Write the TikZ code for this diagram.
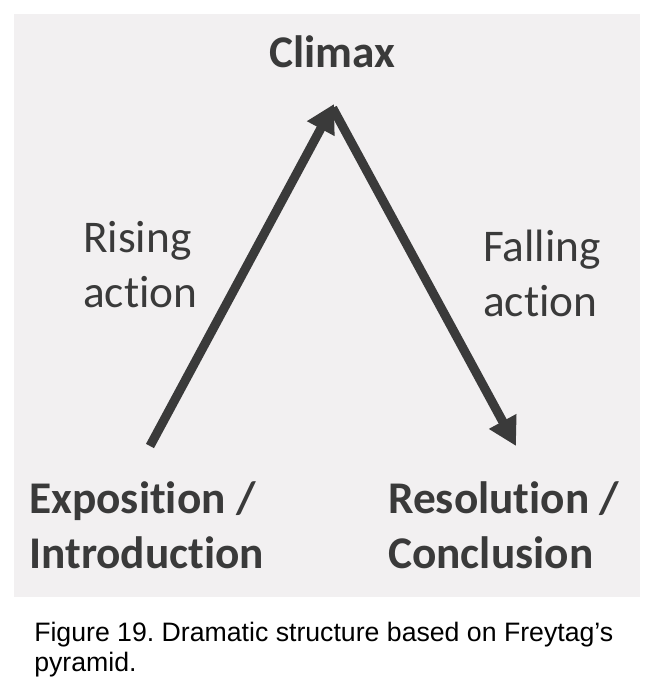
\documentclass[tikz,border=0pt]{standalone}
\usepackage{fontspec}
\newfontfamily\labelfont[Ligatures=NoCommon]{Carlito}
\newfontfamily\captionfont{Liberation Sans}
\usetikzlibrary{arrows.meta}

\definecolor{panelgray}{HTML}{F2F0F1}
\definecolor{inkgray}{HTML}{3A3A3A}

\begin{document}
\frenchspacing
\begin{tikzpicture}[
  x=0.75pt, y=-0.75pt,
  stage/.style={font=\labelfont\bfseries\fontsize{34}{41}\selectfont, text=inkgray, align=left, inner sep=0pt, anchor=base west},
  phase/.style={font=\labelfont\fontsize{34}{41}\selectfont, text=inkgray, align=left, inner sep=0pt, anchor=base west},
  arrow/.style={-{Triangle[length=21pt, width=22pt]}, line width=6.8pt, draw=inkgray},
  caption/.style={font=\captionfont\fontsize{20}{22.5}\selectfont, text=black, align=left, inner sep=0pt, anchor=base west}
]
\useasboundingbox (0,0) rectangle (655,692);

% Background panel
\fill[panelgray] (14,14) rectangle (640,597);

% Stage labels (multi-line nodes sit on their last baseline)
\node[stage, anchor=base] (climax) at (332,68) {Climax};
\node[stage] (expo) at (29,568) {Exposition /\\Introduction};
\node[stage] (resol) at (388,568) {Resolution /\\Conclusion};

% Phase labels
\node[phase] (rising) at (83,307) {Rising\\action};
\node[phase] (falling) at (483,316) {Falling\\action};

% Pyramid arrows
\coordinate (start) at (150,446);
\coordinate (peak) at (334,104);
\coordinate (finish) at (516,446);
\draw[arrow] (start) -- (peak);
\draw[arrow] ([xshift=-1pt,yshift=-3pt]peak) -- (finish);

% Caption
\node[caption] (cap) at (34,671) {Figure 19. Dramatic structure based on Freytag’s\\pyramid.};
\end{tikzpicture}
\end{document}
